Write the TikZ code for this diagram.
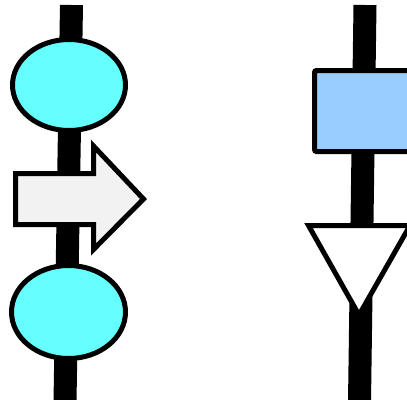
\documentclass[tikz,border=0pt]{standalone}
\usetikzlibrary{calc}
\definecolor{bulb}{RGB}{102,255,255}
\definecolor{shift}{RGB}{242,242,242}
\definecolor{slab}{RGB}{153,204,255}
\tikzset{
    wire/.style={line width=23pt},
    part/.style={draw=black,line width=5pt,line join=miter}
}
\begin{document}
\begin{tikzpicture}[x=1pt,y=-1pt]
            \useasboundingbox (0,0) rectangle (407,399);
            \clip (0,0) rectangle (407,399);
            \coordinate (L_1) at (71.5,5);
            \coordinate (L_2) at (65,402);
            \coordinate (R_1) at (365,5);
            \coordinate (R_2) at (359.5,402);
            \coordinate (E_1) at (69,85);
            \coordinate (E_2) at (68.5,312);
            \draw[wire] (L_1)--(L_2);
            \draw[wire] (R_1)--(R_2);
            \draw[part,fill=bulb] (E_1) ellipse (56.5 and 45.5);
            \draw[part,fill=bulb] (E_2) ellipse (57 and 46.5);
            \draw[part,fill=shift] (15.5,173.5)--(93.5,173.5)--(93.5,146)--(143.5,199)
                --(93.5,249.5)--(93.5,224.5)--(15.5,224.5)--cycle;
            \draw[part,fill=slab,rounded corners=2pt] (314.5,70.5) rectangle (430,151.5);
            \draw[part,fill=white] (308.5,225.5)--(410,225.5)--(359,315)--cycle;
    \end{tikzpicture}
\end{document}
